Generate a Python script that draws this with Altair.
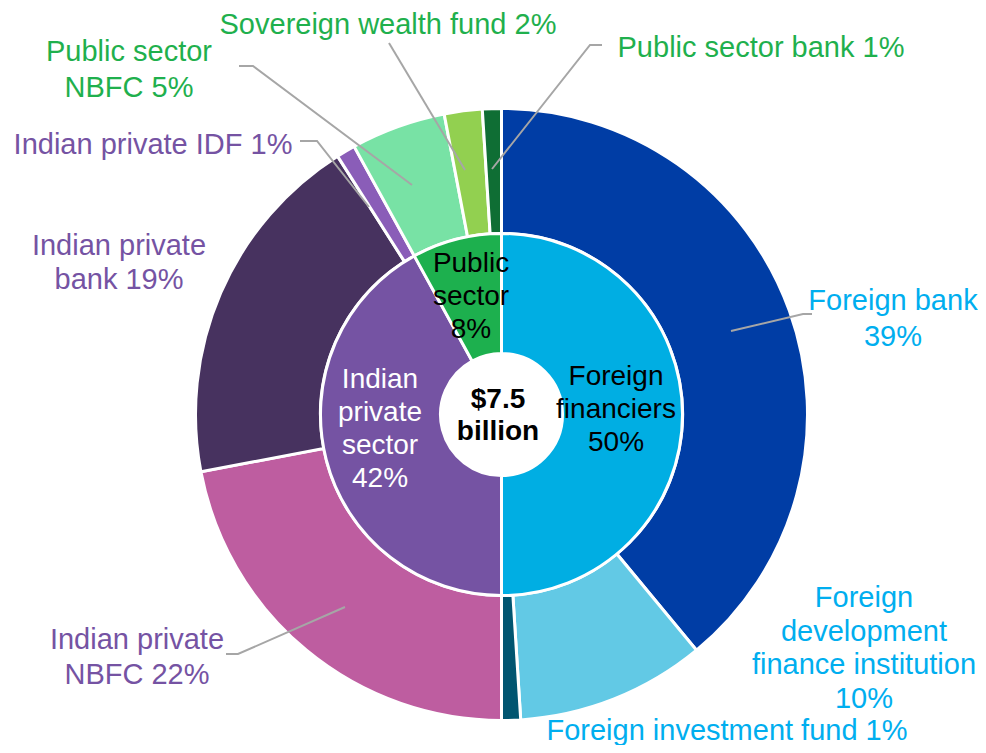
import altair as alt
import pandas as pd

# ---------------- data ----------------
outer_names = ["Foreign bank", "Foreign development finance institution",
               "Foreign investment fund", "Indian private NBFC",
               "Indian private bank", "Indian private IDF",
               "Public sector NBFC", "Sovereign wealth fund", "Public sector bank"]
outer_values = [39, 10, 1, 22, 19, 1, 5, 2, 1]
outer_groups = ["foreign", "foreign", "foreign", "indian", "indian", "indian",
                "public", "public", "public"]
outer_label_text = ["Foreign bank\n39%",
                    "Foreign\ndevelopment\nfinance institution\n10%",
                    "Foreign investment fund 1%",
                    "Indian private\nNBFC 22%",
                    "Indian private\nbank 19%",
                    "Indian private IDF 1%",
                    "Public sector\nNBFC 5%",
                    "Sovereign wealth fund 2%",
                    "Public sector bank 1%"]

inner_names = ["Foreign financiers", "Indian private sector", "Public sector"]
inner_values = [50, 42, 8]
inner_label_text = ["Foreign\nfinanciers\n50%", "Indian\nprivate\nsector\n42%", "Public\nsector\n8%"]
center_text = "$7.5\nbillion"

# ---------------- styles ----------------
outer_colors = ["#003DA5", "#62C9E5", "#005570", "#BE5DA0", "#47325F",
                "#8A5DB8", "#78E2A5", "#92D050", "#0F6E34"]
inner_colors = ["#00AEE3", "#7553A3", "#1DB04E"]
group_colors = {"foreign": "#00AEEF", "indian": "#7553A3", "public": "#1FB04D"}
inner_text_colors = ["#000000", "#FFFFFF", "#000000"]
FONT = "Liberation Sans"

# ---------------- layout (page pixel coordinates) ----------------
OFF = 8
CX, CY = 501.5 - OFF, 414.5 - OFF
R_OUT, R_MID, R_IN = 306, 181, 61

# (x, y of first line, line height)
outer_label_pos = [(893, 301, 36), (864, 598, 33.5), (727, 731, 34), (137, 640, 35),
                   (119, 246, 34), (153, 145, 34), (129, 52, 36), (388, 25, 34),
                   (761, 48, 34)]
inner_label_pos = [(616, 377, 33), (380, 380, 33), (471, 264, 33)]
center_pos = (498, 400, 32)

leaders = [
    [(731, 331), (803, 314), (812, 314)],
    [(345, 607), (238, 654), (226, 654)],
    [(492, 169), (590, 45), (602, 45)],
    [(465, 170), (389, 43)],
    [(412, 185), (253, 66), (239, 66)],
    [(369, 207), (317, 141), (300, 141)],
]

# ---------------- tables ----------------
outer_df = pd.DataFrame({"name": outer_names, "value": outer_values,
                         "idx": list(range(len(outer_names)))})
inner_df = pd.DataFrame({"name": inner_names, "value": inner_values,
                         "idx": list(range(len(inner_names)))})

outer_arc = alt.Chart(outer_df).mark_arc(
    innerRadius=R_MID, outerRadius=R_OUT, stroke="white", strokeWidth=3
).encode(
    theta=alt.Theta("value:Q", stack=True),
    order=alt.Order("idx:Q"),
    color=alt.Color("name:N", scale=alt.Scale(domain=outer_names, range=outer_colors), legend=None),
    x=alt.value(CX), y=alt.value(CY),
)

inner_arc = alt.Chart(inner_df).mark_arc(
    innerRadius=R_IN, outerRadius=R_MID, stroke="white", strokeWidth=3
).encode(
    theta=alt.Theta("value:Q", stack=True),
    order=alt.Order("idx:Q"),
    color=alt.Color("name:N", scale=alt.Scale(domain=inner_names, range=inner_colors), legend=None),
    x=alt.value(CX), y=alt.value(CY),
)

rows = []
for i, pts in enumerate(leaders):
    for k, (px, py) in enumerate(pts):
        rows.append({"id": i, "k": k, "x": px - OFF, "y": py - OFF})
lead_df = pd.DataFrame(rows)
lines = alt.Chart(lead_df).mark_line(color="#A6A6A6", strokeWidth=2).encode(
    x=alt.X("x:Q", scale=None, axis=None),
    y=alt.Y("y:Q", scale=None, axis=None),
    detail="id:N",
    order="k:Q",
)

def text_layer(text, pos, color, size, bold=False):
    px, py, lh = pos
    df = pd.DataFrame({"text": [text], "x": [px - OFF], "y": [py - OFF]})
    return alt.Chart(df).mark_text(
        font=FONT, fontSize=size, lineBreak="\n", lineHeight=lh,
        align="center", baseline="middle", color=color,
        fontWeight="bold" if bold else "normal",
    ).encode(
        x=alt.X("x:Q", scale=None, axis=None),
        y=alt.Y("y:Q", scale=None, axis=None),
        text="text:N",
    )

text_layers = []
for i, t in enumerate(outer_label_text):
    text_layers.append(text_layer(t, outer_label_pos[i], group_colors[outer_groups[i]], 29))
for i, t in enumerate(inner_label_text):
    text_layers.append(text_layer(t, inner_label_pos[i], inner_text_colors[i], 28))
text_layers.append(text_layer(center_text, center_pos, "#000000", 28, bold=True))

chart = alt.layer(outer_arc, inner_arc, lines, *text_layers).resolve_scale(
    color="independent", theta="independent"
).properties(
    width=970, height=737, padding=0, autosize="none", background="white"
).configure_view(stroke=None)

chart.save("out.html", embed_options={"renderer": "svg", "actions": False})
